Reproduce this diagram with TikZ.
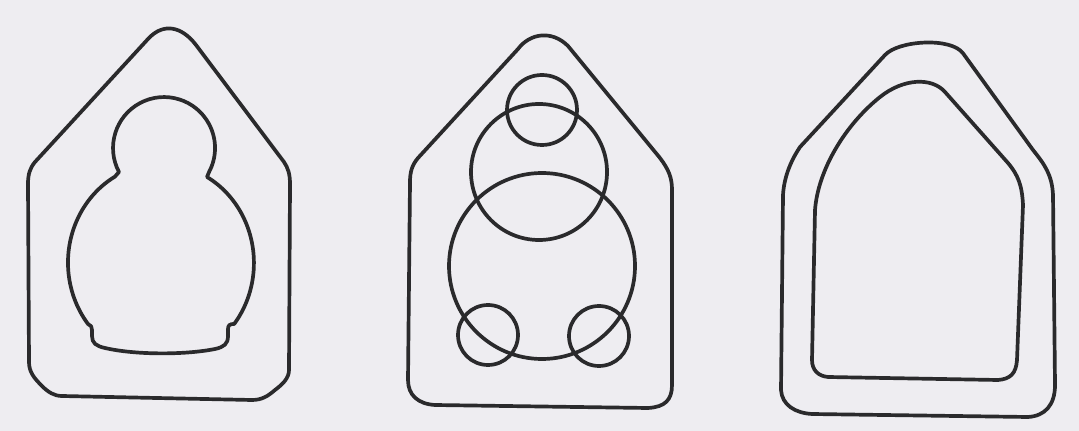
\documentclass[tikz,border=0pt]{standalone}
\usepackage{tikz}
\definecolor{paper}{HTML}{EEEDF1}
\definecolor{ink}{HTML}{2A2A2C}
\tikzset{
  outline/.style={draw=ink, line width=1.05pt, line join=round, line cap=round}
}
\begin{document}
\begin{tikzpicture}[x=0.01cm, y=-0.01cm]
\fill[paper] (0,0) rectangle (1079,431);
\useasboundingbox (0,0) rectangle (1079,431);

% ---------- Figure 1 ----------
% outer house
\draw[outline] (148,39) .. controls (163.5,22) and (182,26.6) .. (196,45)
  -- (284,162) .. controls (288,168) and (290,174) .. (290,184)
  -- (289,370) .. controls (289,378) and (283,384) .. (275,390)
  .. controls (268,396) and (262,400) .. (252,400)
  -- (62,396) .. controls (54,396) and (48,392) .. (42,386)
  .. controls (34,378) and (29,372) .. (29,362)
  -- (28,184) .. controls (28,174) and (30,168) .. (35,162) -- cycle;
% inner snowman
\draw[outline] (119,172) arc[start angle=152, end angle=388, radius=51]
  -- (207,177)
  arc[start angle=-60.3, end angle=38, x radius=93, y radius=99]
  .. controls (230,324) and (228,325) .. (228,329)
  -- (228,336) .. controls (228,344) and (224,347) .. (215,349)
  .. controls (185,355) and (135,355) .. (105,348)
  .. controls (96,346) and (92,343) .. (92,336)
  -- (92,330) .. controls (92,327) and (91,325) .. (88,324)
  arc[start angle=141.7, end angle=240.3, x radius=93, y radius=99]
  -- cycle;

% ---------- Figure 2 ----------
\draw[outline] (518,49) .. controls (530,33) and (552,30) .. (568,46)
  -- (660,158) .. controls (669,170) and (672,178) .. (672,190)
  -- (672,385) .. controls (672,400) and (665,407) .. (648,408)
  -- (435,405) .. controls (418,404) and (408,395) .. (408,380)
  -- (410,182) .. controls (410,172) and (412,165) .. (418,158)
  -- cycle;
\draw[outline] (542,110) circle[radius=35];
\draw[outline] (539,172) circle[radius=68];
\draw[outline] (542,266) circle[radius=93];
\draw[outline] (488,335) circle[radius=30];
\draw[outline] (599,336) circle[radius=30];

% ---------- Figure 3 ----------
\draw[outline] (885,55) .. controls (898.5,40.3) and (951.3,37.1) .. (963,53.3)
  -- (1033,150) .. controls (1045,165) and (1052,175) .. (1053,195)
  -- (1055,385) .. controls (1055,405) and (1045,416) .. (1028,417)
  -- (812,414) .. controls (795,413) and (782,405) .. (781,390)
  -- (783,195) .. controls (784,178) and (790,162) .. (800,147)
  -- cycle;
\draw[outline] (880,97) .. controls (903.4,78.3) and (931.7,77) .. (945,92)
  -- (1008,163) .. controls (1018,175) and (1022,185) .. (1023,205)
  -- (1017,360) .. controls (1016,374) and (1010,379) .. (998,380)
  -- (828,377) .. controls (818,376) and (812,370) .. (812,360)
  -- (815,210) .. controls (818,170) and (845,125) .. cycle;
\end{tikzpicture}
\end{document}
